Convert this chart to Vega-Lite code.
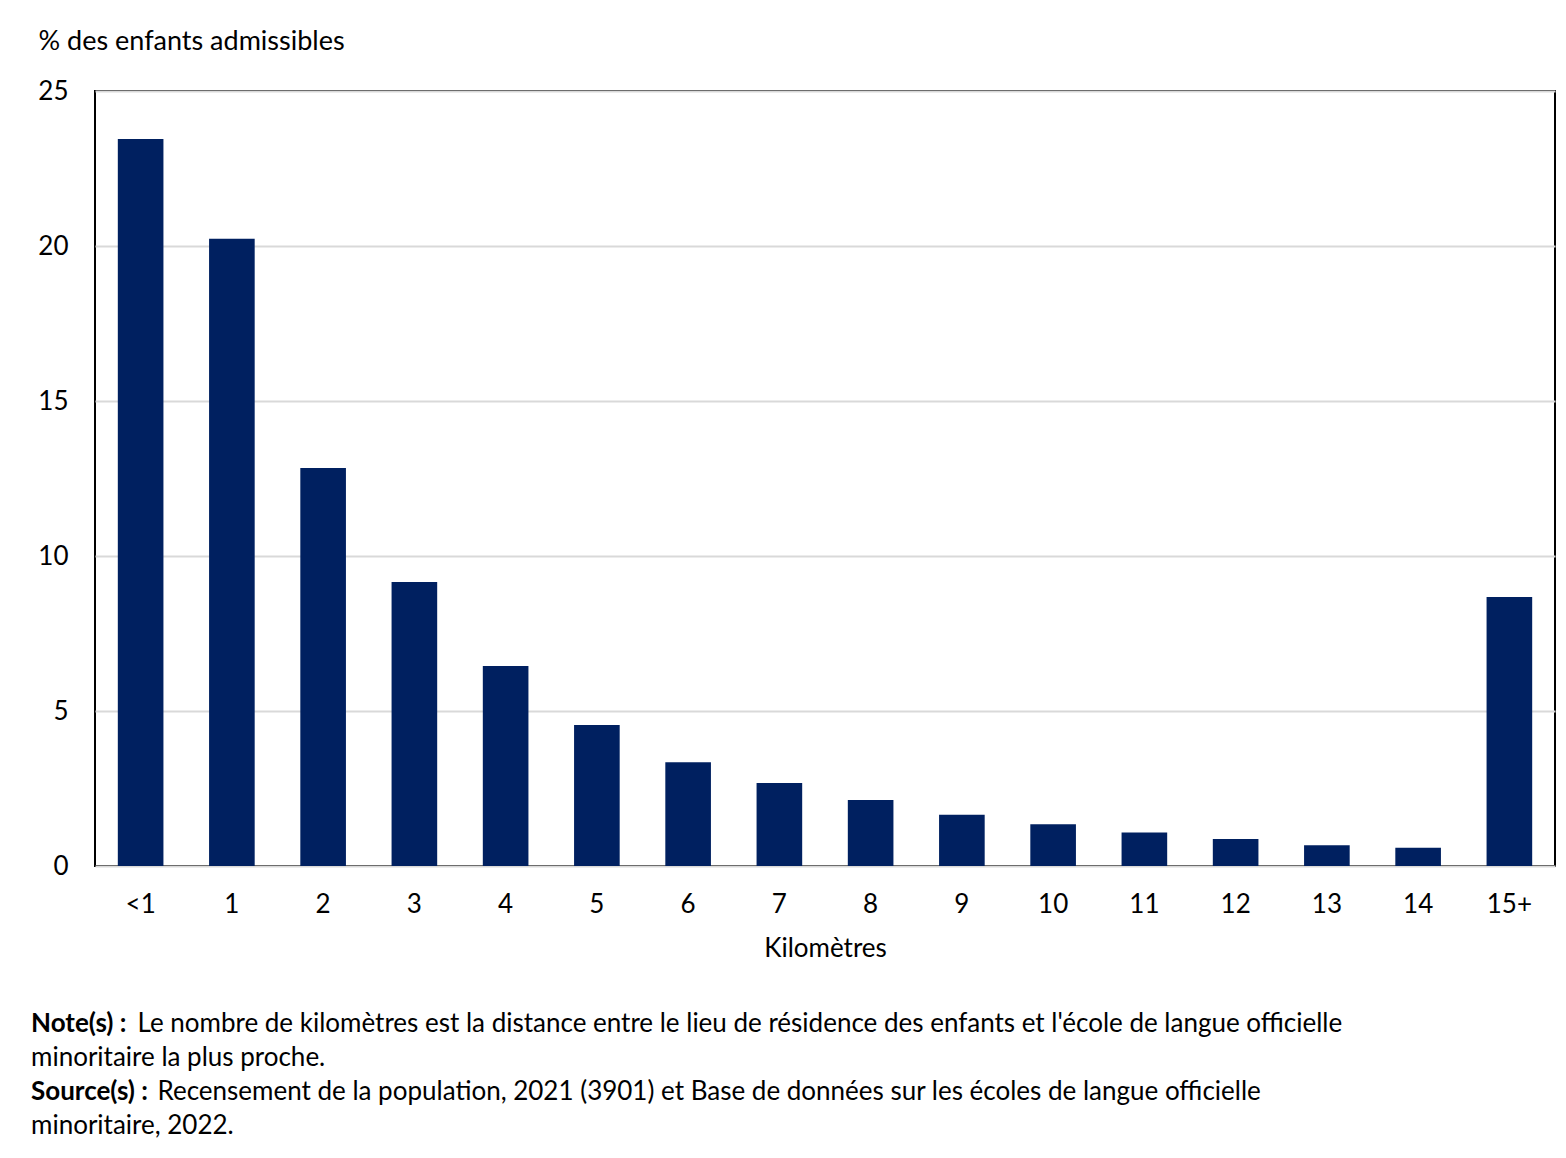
{
  "$schema": "https://vega.github.io/schema/vega-lite/v6.json",
  "autosize": "none",
  "width": 1460,
  "height": 775,
  "padding": {"left": 95, "top": 91, "right": 11, "bottom": 292},
  "background": "white",
  "config": {
    "font": "Lato",
    "view": {"stroke": "black", "strokeWidth": 2},
    "axis": {"labelFont": "Lato", "titleFont": "Lato", "labelColor": "black", "titleColor": "black"}
  },
  "title": {
    "text": ["Note(s) :", "\u200b", "Source(s) :"],
    "orient": "bottom",
    "anchor": "start",
    "frame": "group",
    "font": "Lato",
    "fontWeight": "bold",
    "fontSize": 26,
    "lineHeight": 34,
    "color": "black",
    "dx": -64,
    "offset": 50,
    "subtitle": [
      "\u200b\u00a0\u00a0\u00a0\u00a0\u00a0\u00a0\u00a0\u00a0\u00a0\u00a0\u00a0\u00a0\u00a0\u00a0\u00a0\u00a0Le nombre de kilomètres est la distance entre le lieu de résidence des enfants et l'école de langue officielle",
      "minoritaire la plus proche.",
      "\u200b\u00a0\u00a0\u00a0\u00a0\u00a0\u00a0\u00a0\u00a0\u00a0\u00a0\u00a0\u00a0\u00a0\u00a0\u00a0\u00a0\u00a0\u00a0\u00a0Recensement de la population, 2021 (3901) et Base de données sur les écoles de langue officielle",
      "minoritaire, 2022."
    ],
    "subtitleFont": "Lato",
    "subtitleFontSize": 26,
    "subtitleLineHeight": 34,
    "subtitleColor": "black",
    "subtitlePadding": -94
  },
  "data": {
    "values": [
      {"km": "<1", "pct": 23.45},
      {"km": "1", "pct": 20.23},
      {"km": "2", "pct": 12.84},
      {"km": "3", "pct": 9.16},
      {"km": "4", "pct": 6.45},
      {"km": "5", "pct": 4.55},
      {"km": "6", "pct": 3.35},
      {"km": "7", "pct": 2.68},
      {"km": "8", "pct": 2.13},
      {"km": "9", "pct": 1.65},
      {"km": "10", "pct": 1.35},
      {"km": "11", "pct": 1.08},
      {"km": "12", "pct": 0.87},
      {"km": "13", "pct": 0.67},
      {"km": "14", "pct": 0.59},
      {"km": "15+", "pct": 8.68}
    ]
  },
  "mark": {"type": "bar", "color": "#002060"},
  "encoding": {
    "x": {
      "field": "km",
      "type": "nominal",
      "sort": null,
      "scale": {"paddingInner": 0.5, "paddingOuter": 0.25},
      "axis": {
        "title": "Kilomètres",
        "labelAngle": 0,
        "labelFontSize": 26,
        "labelPadding": 25,
        "ticks": false,
        "domain": false,
        "titleFontSize": 26,
        "titleFontWeight": "normal",
        "titlePadding": 18
      }
    },
    "y": {
      "field": "pct",
      "type": "quantitative",
      "scale": {"domain": [0, 25], "nice": false},
      "axis": {
        "values": [0, 5, 10, 15, 20, 25],
        "title": "% des enfants admissibles",
        "titleAngle": 0,
        "titleAlign": "left",
        "titleBaseline": "middle",
        "titleX": -57,
        "titleY": -50,
        "titleFontSize": 27,
        "titleFontWeight": "normal",
        "labelFontSize": 26,
        "labelPadding": 27,
        "ticks": false,
        "domain": false,
        "gridColor": "#d9d9d9",
        "gridWidth": 2
      }
    }
  }
}
